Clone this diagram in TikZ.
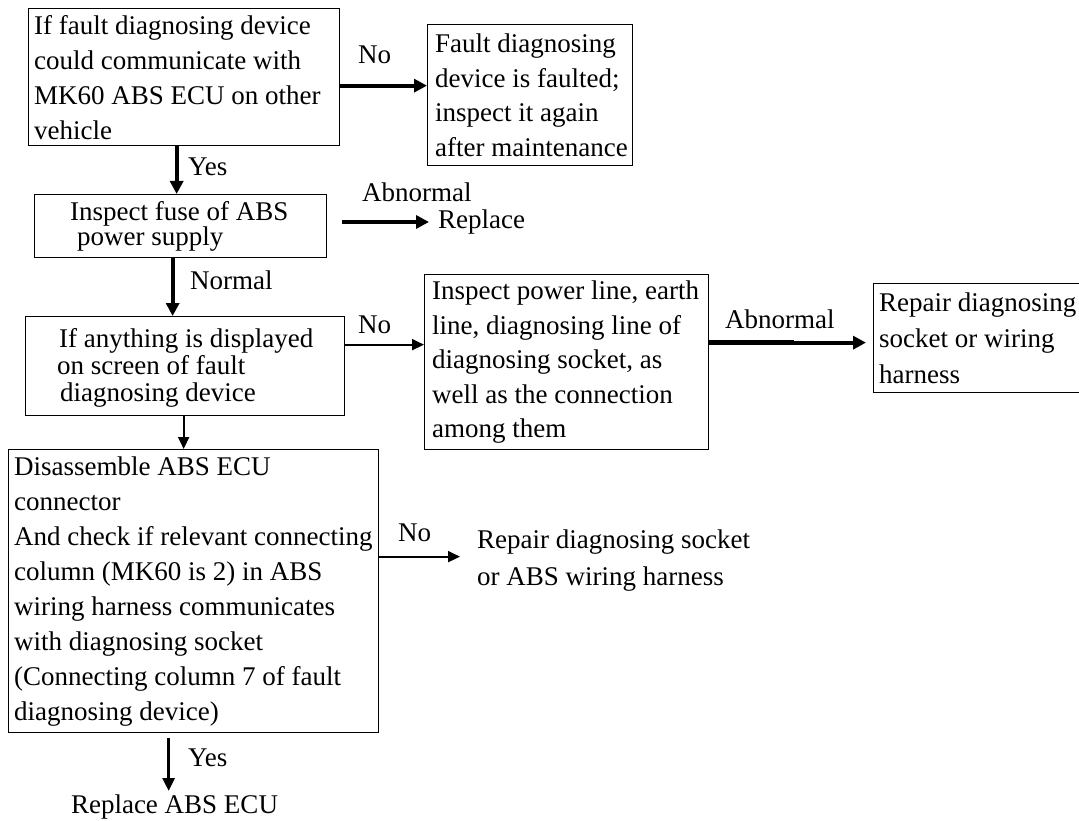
\documentclass[tikz,border=0pt]{standalone}
\usepackage{fontspec}
\setmainfont{Liberation Serif}
\usetikzlibrary{arrows.meta}
\begin{document}
\begin{tikzpicture}[x=1pt,y=-1pt,
  box/.style={draw=black, line width=1.3pt, inner sep=0pt, anchor=north west},
  txt/.style={inner sep=0pt, align=left, anchor=west},
  lbl/.style={inner sep=0pt, anchor=west, font=\fontsize{27}{32}\selectfont},
  heavy/.style={line width=4pt, -{Triangle[length=13pt,width=13pt]}},
  light/.style={line width=2pt, -{Triangle[length=12pt,width=11pt]}},
]
\useasboundingbox (0,0) rectangle (1079,821);
\clip (0,0) rectangle (1079,821);
\fill[white] (0,0) rectangle (1079,821);

% process boxes
\node[box, minimum width=311pt, minimum height=137pt] (b1) at (28,8) {};
\node[box, minimum width=205pt, minimum height=141pt] (b2) at (427,24) {};
\node[box, minimum width=292pt, minimum height=63pt]  (b3) at (34,194) {};
\node[box, minimum width=319pt, minimum height=99pt]  (b4) at (25,316) {};
\node[box, minimum width=284pt, minimum height=175pt] (b5) at (424,274) {};
\node[box, minimum width=220pt, minimum height=109pt] (b6) at (873,283) {};
\node[box, minimum width=370pt, minimum height=283pt] (b7) at (8,449) {};

% box texts
\node[txt, font=\fontsize{27}{35}\selectfont] (t1) at ([xshift=6pt]b1.west)
  {If fault diagnosing device\\could communicate with\\MK60 ABS ECU on other\\vehicle};
\node[txt, font=\fontsize{27}{34.5}\selectfont] (t2) at ([xshift=8pt]b2.west)
  {Fault diagnosing\\device is faulted;\\inspect it again\\after maintenance};
\node[txt, font=\fontsize{27}{25}\selectfont] (t3) at ([xshift=36pt]b3.west)
  {Inspect fuse of ABS\\\hspace*{7pt}power supply};
\node[txt, font=\fontsize{27}{27}\selectfont] (t4) at ([xshift=32pt,yshift=-2pt]b4.west)
  {\hspace*{2pt}If anything is displayed\\on screen of fault\\\hspace*{3pt}diagnosing device};
\node[txt, font=\fontsize{27}{34.5}\selectfont] (t5) at ([xshift=8pt]b5.west)
  {Inspect power line, earth\\line, diagnosing line of\\diagnosing socket, as\\well as the connection\\among them};
\node[txt, font=\fontsize{27}{36}\selectfont] (t6) at ([xshift=6pt]b6.west)
  {Repair diagnosing\\socket or wiring\\harness};
\node[txt, font=\fontsize{27}{35}\selectfont] (t7) at ([xshift=6pt]b7.west)
  {Disassemble ABS ECU\\connector\\And check if relevant connecting\\column (MK60 is 2) in ABS\\wiring harness communicates\\with diagnosing socket\\(Connecting column 7 of fault\\diagnosing device)};

% free-standing results
\node[lbl, inner xsep=9pt] (r3) at (429,222) {Replace};
\node[txt, font=\fontsize{27}{37}\selectfont] (r7) at (477,561) {Repair diagnosing socket\\or ABS wiring harness};
\node[inner xsep=0pt, inner ysep=4pt, anchor=north, font=\fontsize{27}{32}\selectfont] (r9) at (174.5,791) {Replace ABS ECU};

% branch labels
\node[lbl] (l1) at (358,55)  {No};
\node[lbl] (l2) at (188,167) {Yes};
\node[lbl] (l3) at (362,192) {Abnormal};
\node[lbl] (l4) at (190,280) {Normal};
\node[lbl] (l5) at (358,325) {No};
\node[lbl] (l6) at (725,319) {Abnormal};
\node[lbl] (l7) at (398,533) {No};
\node[lbl] (l8) at (188,758) {Yes};

% connectors
\coordinate (p1) at ([yshift=-8.5pt]b1.east);
\draw[heavy] (p1) -- (p1 -| b2.west);
\coordinate (p2) at ([xshift=-7.5pt]b1.south);
\draw[heavy] (p2) -- (p2 |- b3.north);
\draw[heavy] ([xshift=15pt]b3.east |- r3.west) -- (r3.west);
\coordinate (p4) at ([xshift=-8pt]b3.south);
\draw[heavy] (p4) -- (p4 |- b4.north);
\coordinate (p5) at ([yshift=21.5pt]b4.east);
\draw[light] (p5) -- (p5 -| b5.west);
\coordinate (p6) at ([yshift=19.5pt]b5.east);
\coordinate (p6e) at ([xshift=-7pt]b6.west);
\draw[heavy] (p6) -- (p6 -| p6e);
\draw[line width=5.5pt] (p6) -- ++(85,0);
\coordinate (p7) at ([xshift=-1.5pt]b4.south);
\draw[light] (p7) -- (p7 |- b7.north);
\coordinate (p8) at ([yshift=34.5pt]b7.east);
\coordinate (p8e) at ([xshift=-17pt]r7.west);
\draw[light] (p8) -- (p8 -| p8e);
\coordinate (p9) at ([xshift=-25pt,yshift=-5pt]b7.south);
\draw[line width=3pt, -{Triangle[length=13pt,width=12pt]}] (p9) -- (p9 |- r9.north);
\end{tikzpicture}
\end{document}
